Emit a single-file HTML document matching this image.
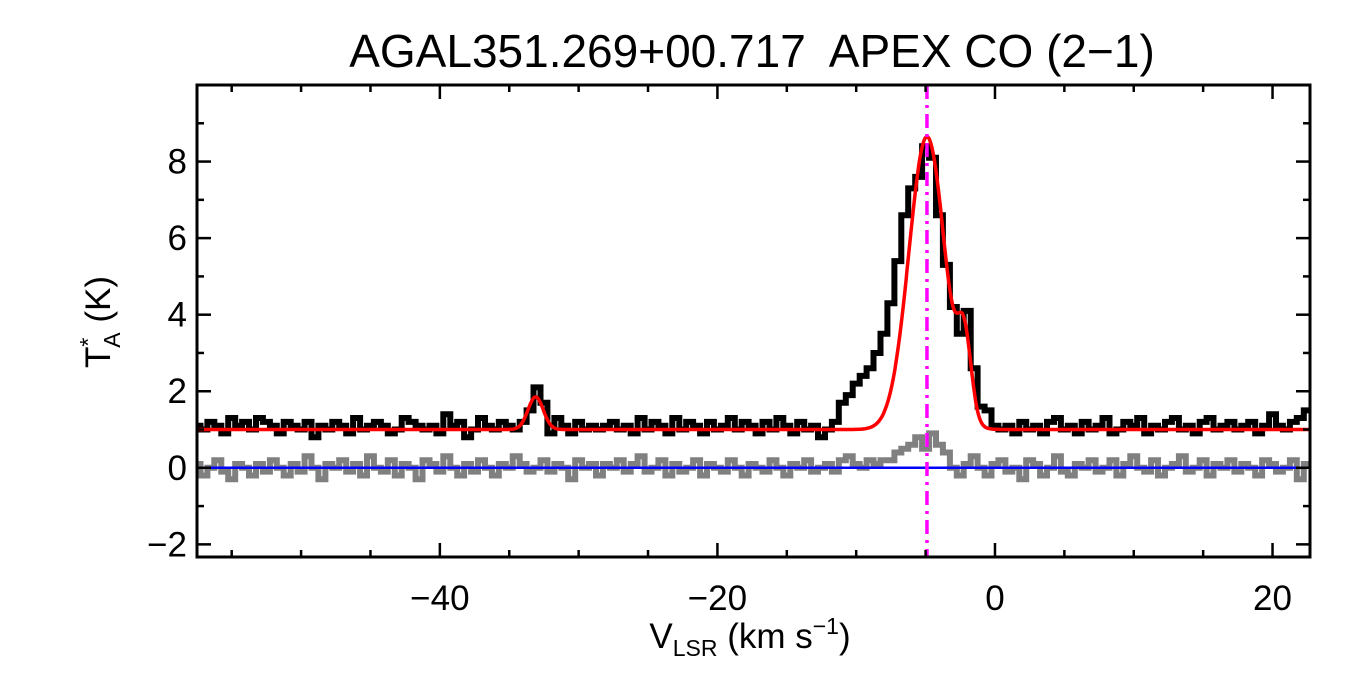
<!DOCTYPE html>
<html><head><meta charset="utf-8"><style>
body{margin:0;background:#fff;}
svg{display:block;font-family:"Liberation Sans",Arial,sans-serif;}
</style></head><body>
<svg id="chart" width="1350" height="675">
<text x="752" y="67" font-size="46" text-anchor="middle" style="white-space:pre">AGAL351.269+00.717  APEX CO (2−1)</text>
<g id="plot"></g>
<text x="750" y="648" font-size="35" text-anchor="middle">V<tspan font-size="23" dy="8">LSR</tspan><tspan dy="-8"> (km s</tspan><tspan font-size="23" dy="-14">−1</tspan><tspan dy="14">)</tspan></text>
<text transform="translate(110,322) rotate(-90)" font-size="35" text-anchor="middle">T<tspan font-size="23" dy="-14">*</tspan><tspan font-size="23" dy="24" dx="-10">A</tspan><tspan dy="-10"> (K)</tspan></text>
</svg>
<script>
const v0 = -57.5, dv = 0.5;
const spectrum = [
1.1,1.0,1.2,1.1,0.9,1.3,1.1,1.2,1.0,1.3,
1.2,1.1,0.9,1.2,1.1,1.0,1.2,0.8,1.1,1.0,
1.2,1.1,0.9,1.3,1.0,1.1,1.2,1.1,0.9,1.0,
1.3,1.2,1.1,1.0,1.1,0.9,1.4,1.1,1.2,0.8,
1.0,1.3,1.1,1.0,1.2,1.1,1.0,1.2,1.5,2.1,
1.7,0.9,1.3,1.1,0.9,1.2,1.0,1.1,1.0,1.1,
1.2,1.0,1.1,0.9,1.3,1.0,1.2,1.1,0.9,1.3,
1.0,1.2,1.1,0.9,1.2,1.0,1.1,1.3,1.0,1.2,
1.1,0.9,1.2,1.0,1.3,1.1,0.9,1.2,1.0,1.1,
0.8,1.0,1.2,1.7,1.9,2.2,2.4,2.6,3.0,3.5,
4.3,5.4,6.6,7.3,7.6,8.4,8.1,6.6,5.3,4.2,
3.5,4.1,2.6,1.6,1.5,1.1,1.0,1.1,0.9,1.2,
1.0,1.1,0.9,1.2,1.3,1.0,1.1,0.9,1.2,1.0,
1.1,1.3,0.9,1.0,1.2,1.1,1.3,0.9,1.1,1.0,
1.2,1.3,1.0,1.1,0.9,1.2,1.3,1.0,1.1,1.2,
1.0,1.1,1.2,0.9,1.1,1.4,1.1,1.0,1.2,1.3,1.5];
const residual = [
0.1,-0.2,0.0,0.2,-0.1,-0.3,0.1,0.0,-0.2,0.1,
-0.1,0.2,0.0,-0.2,0.1,-0.1,0.3,0.0,-0.3,0.1,
0.0,0.2,-0.1,0.1,-0.2,0.3,0.0,-0.1,0.2,-0.2,
0.1,0.0,-0.3,0.2,0.1,-0.1,0.3,0.0,-0.2,0.1,
-0.1,0.2,0.0,-0.2,0.1,0.0,0.3,0.1,-0.1,0.0,
0.2,-0.1,0.1,0.0,-0.3,0.2,0.0,0.1,-0.2,0.1,
0.0,0.2,-0.1,0.1,0.3,-0.1,0.0,0.2,-0.2,0.1,
-0.1,0.0,0.2,-0.2,0.1,0.0,-0.1,0.2,0.0,-0.2,
0.1,0.0,-0.1,0.2,0.0,-0.2,0.1,0.0,0.2,-0.1,
0.0,0.1,-0.1,0.2,0.3,0.1,0.0,0.2,0.1,0.2,
0.2,0.4,0.5,0.6,0.8,0.5,0.9,0.6,0.4,0.0,
-0.2,0.1,0.3,0.0,-0.2,0.1,0.2,-0.1,0.0,-0.3,
0.2,0.1,-0.2,0.0,0.3,-0.1,-0.2,0.1,0.0,0.2,
-0.1,0.0,0.2,-0.2,0.1,0.3,0.0,-0.1,0.2,-0.2,
0.0,0.1,0.3,-0.1,0.0,0.2,-0.2,0.1,0.0,0.2,
-0.1,0.1,0.0,-0.2,0.2,0.1,-0.1,0.0,0.2,-0.3,0.1];
const fitBaseline = 1.0;
const fitCenters = [-33.1, -4.9, -2.2];
const fitAmps = [0.85, 7.65, 2.0];
const fitSigmas = [0.55, 1.3, 0.5];
const vCenter = -4.9;
const xTicks = [-40,-20,0,20];
const yTicks = [-2,0,2,4,6,8];

const L=197,R=1310,T=85,B=557, xmin=-57.5, xmax=22.7, ymin=-2.33, ymax=10.0;
const X=v=>L+(v-xmin)/(xmax-xmin)*(R-L);
const Y=t=>B-(t-ymin)/(ymax-ymin)*(B-T);
const NS="http://www.w3.org/2000/svg";
const g=document.getElementById('plot');
function mk(tag,attrs){const e=document.createElementNS(NS,tag);for(const k in attrs)e.setAttribute(k,attrs[k]);g.appendChild(e);return e;}
const clip=document.createElementNS(NS,'clipPath');clip.setAttribute('id','pc');
const cr=document.createElementNS(NS,'rect');cr.setAttribute('x',L);cr.setAttribute('y',T);cr.setAttribute('width',R-L);cr.setAttribute('height',B-T);clip.appendChild(cr);g.appendChild(clip);
function steps(arr){let d='';arr.forEach((t,i)=>{const v=v0+i*dv;const x1=X(v-dv/2),x2=X(v+dv/2),y=Y(t);d+=(i?'L':'M')+x1.toFixed(1)+','+y.toFixed(1)+'L'+x2.toFixed(1)+','+y.toFixed(1);});return d;}
let e;
e=mk('path',{d:steps(residual),fill:'none',stroke:'#808080','stroke-width':6,'clip-path':'url(#pc)'});


e=mk('line',{x1:L,x2:R,y1:Y(0),y2:Y(0),stroke:'#0000ff','stroke-width':2.5});


e=mk('path',{d:steps(spectrum),fill:'none',stroke:'#000','stroke-width':6,'clip-path':'url(#pc)'});


let fd='';
for(let v=xmin;v<=xmax;v+=0.05){let t=fitBaseline;for(let k=0;k<fitCenters.length;k++)t+=fitAmps[k]*Math.exp(-Math.pow(v-fitCenters[k],2)/(2*fitSigmas[k]*fitSigmas[k]));fd+=(fd?'L':'M')+X(v).toFixed(1)+','+Y(t).toFixed(1);}
e=mk('path',{d:fd,fill:'none',stroke:'#ff0000','stroke-width':3.5});


e=mk('line',{x1:X(vCenter),x2:X(vCenter),y1:T,y2:B,stroke:'#ff00ff','stroke-width':3.5,'stroke-dasharray':'14,6,3,6'});


e=mk('rect',{x:L,y:T,width:R-L,height:B-T,fill:'none',stroke:'#000','stroke-width':3});


for(let v=-55;v<=20;v+=5){const maj=xTicks.includes(v);const len=maj?14:7;
e=mk('line',{x1:X(v),x2:X(v),y1:B,y2:B-len,stroke:'#000','stroke-width':2.5});


e=mk('line',{x1:X(v),x2:X(v),y1:T,y2:T+len,stroke:'#000','stroke-width':2.5});

}
xTicks.forEach(v=>{e=mk('text',{x:X(v),y:B+53,'font-size':35,'text-anchor':'middle'});e.textContent=v<0?'−'+(-v):v;

});
for(let t=-2;t<=9;t+=1){const maj=yTicks.includes(t);const len=maj?14:7;
e=mk('line',{x1:L,x2:L+len,y1:Y(t),y2:Y(t),stroke:'#000','stroke-width':2.5});


e=mk('line',{x1:R,x2:R-len,y1:Y(t),y2:Y(t),stroke:'#000','stroke-width':2.5});

}
yTicks.forEach(t=>{e=mk('text',{x:L-10,y:Y(t)+12,'font-size':35,'text-anchor':'end'});e.textContent=t<0?'−'+(-t):t;

});
</script>
</body></html>
